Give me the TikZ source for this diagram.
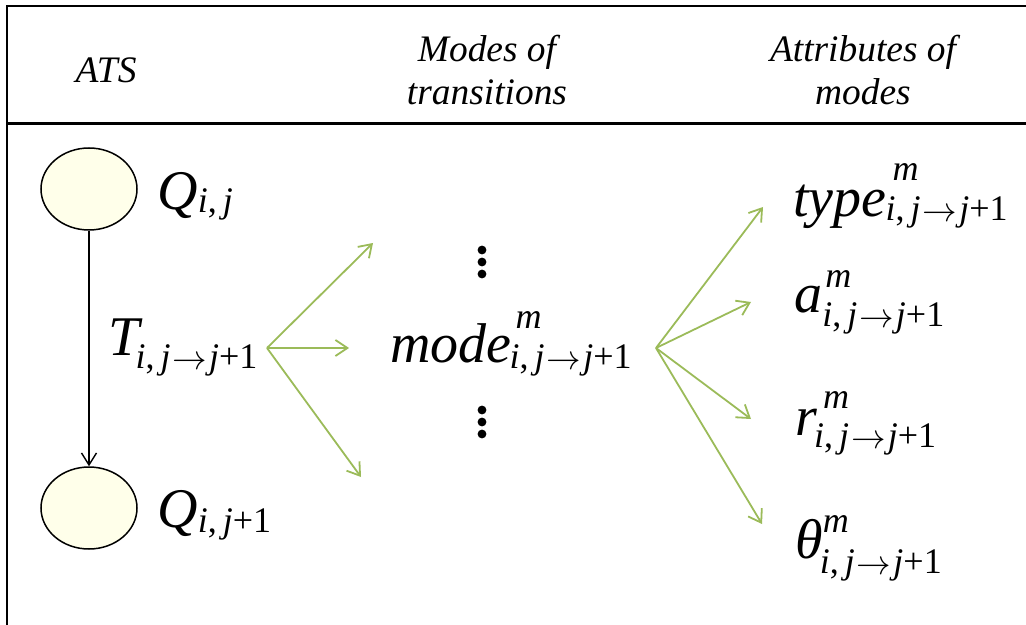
\documentclass[tikz,border=0pt]{standalone}
\usepackage{fontspec}
\setmainfont{Liberation Serif}
\usetikzlibrary{shapes.geometric,arrows.meta}
\definecolor{statefill}{RGB}{255,255,234}
\definecolor{modegreen}{RGB}{155,187,89}
\newcommand{\basesz}{\fontsize{28}{32}\selectfont}
\newcommand{\subsz}{\fontsize{18}{20}\selectfont}
% #1 base, #2 sup, #3 sub, #4 sup kern, #5 sup raise, #6 sub kern, #7 sub drop
\newcommand{\mlab}[7]{{\basesz\itshape #1}\kern#6\rlap{\kern\dimexpr#4-#6\relax\raisebox{#5}{\subsz\itshape #2}}\raisebox{-#7}{\subsz #3}}
\newcommand{\sarrow}{\kern1pt\raisebox{-0.5pt}{$\rightarrow$}\kern1pt}
\newcommand{\ijsub}{\textit{i},\kern3pt\textit{j}\sarrow\textit{j}+1}
\newcommand{\ijonly}{\textit{i},\kern3pt\textit{j}}
\newcommand{\ijone}{\textit{i},\kern3pt\textit{j}+1}
\tikzset{
  framestyle/.style={line width=1pt},
  hdr/.style={inner sep=0pt, font=\fontsize{18.7}{22}\selectfont\itshape, anchor=base},
  mlbl/.style={inner sep=0pt, anchor=base west},
  stateq/.style={ellipse, draw, line width=0.75pt, fill=statefill, minimum width=48pt, minimum height=41pt, inner sep=0pt},
  transarrow/.style={line width=0.7pt, -{Straight Barb[length=6pt,width=7.5pt,line width=0.7pt]}},
  modearrow/.style={draw=modegreen, line width=0.9pt, -{Straight Barb[length=6pt,width=8pt,line width=0.9pt]}},
  vdot/.style={circle, fill=black, inner sep=0pt, minimum size=4.4pt}
}
\begin{document}
\begin{tikzpicture}[x=0.5pt,y=-0.5pt]
\useasboundingbox (0,0) rectangle (1026,625);
% frame
\draw[framestyle] (1026,6) -- (7,6) -- (7,625);
\draw[line width=1.5pt] (7,124) -- (1026,124);
% headers
\node[hdr] (ats) at (106,83) {ATS};
\node[hdr] (modes1) at (487,62) {Modes of};
\node[hdr] (modes2) at (487,105) {transitions};
\node[hdr] (attr1) at (863,62) {Attributes of};
\node[hdr] (attr2) at (863,105) {modes};
% states
\node[stateq] (q1) at (89,189) {};
\node[stateq] (q2) at (89,508) {};
\node[mlbl] (q1lbl) at (157,210) {\mlab{Q}{}{\ijonly}{0pt}{0pt}{0pt}{1.5pt}};
\node[mlbl] (q2lbl) at (157,527) {\mlab{Q}{}{\ijone}{0pt}{0pt}{0pt}{2.5pt}};
\draw[transarrow] (q1.south) -- (q2.north);
\node[mlbl] (tlbl) at (108,355) {\mlab{T}{}{\ijsub}{0pt}{0pt}{-2pt}{6.5pt}};
% modes
\coordinate (tsplit) at (267,348);
\coordinate (mup) at (373,243);
\coordinate (mmid) at (349,348);
\coordinate (mdown) at (361,477);
\draw[modearrow] (tsplit) -- (mup);
\draw[modearrow] (tsplit) -- (mmid);
\draw[modearrow] (tsplit) -- (mdown);
\node[mlbl] (mode) at (390,362) {\mlab{mode}{m}{\ijsub}{2pt}{17pt}{-1pt}{3pt}};
\node[vdot] (d1) at (482,250) {};
\node[vdot] (d2) at (482,262) {};
\node[vdot] (d3) at (482,274) {};
\node[vdot] (d4) at (482,410) {};
\node[vdot] (d5) at (482,422) {};
\node[vdot] (d6) at (482,434) {};
% attributes
\coordinate (msplit) at (656,348);
\coordinate (atype) at (763,207);
\coordinate (aa) at (751,302);
\coordinate (ar) at (751,419);
\coordinate (ath) at (762,524);
\draw[modearrow] (msplit) -- (atype);
\draw[modearrow] (msplit) -- (aa);
\draw[modearrow] (msplit) -- (ar);
\draw[modearrow] (msplit) -- (ath);
\node[mlbl] (typelbl) at (793,217) {\mlab{type}{m}{\ijsub}{3pt}{18pt}{-0.5pt}{2pt}};
\node[mlbl] (albl) at (794,313) {\mlab{a}{m}{\ijsub}{1.5pt}{13pt}{0pt}{7pt}};
\node[mlbl] (rlbl) at (795,435) {\mlab{r}{m}{\ijsub}{3pt}{13.5pt}{-1.5pt}{6pt}};
\node[mlbl] (thlbl) at (795,558) {\mlab{θ}{m}{\ijsub}{0pt}{13pt}{-1.5pt}{7.5pt}};
\end{tikzpicture}
\end{document}
